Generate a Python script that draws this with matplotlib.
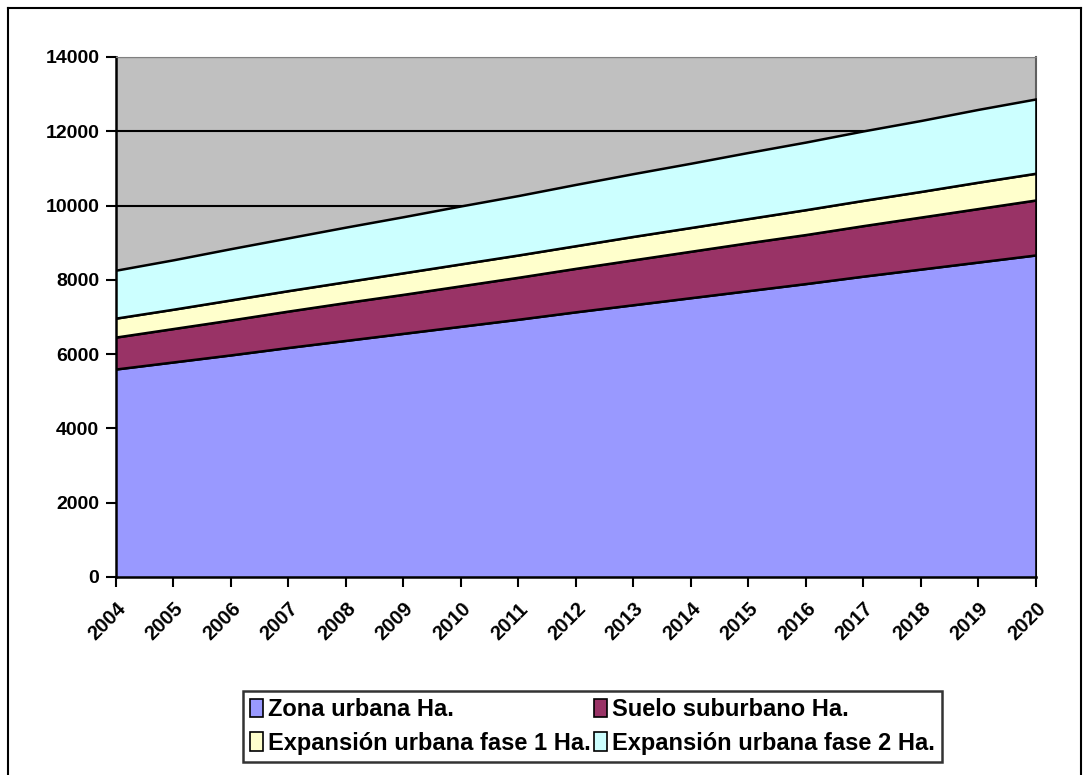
import matplotlib.pyplot as plt
from matplotlib.patches import Patch
from matplotlib.lines import Line2D

years = list(range(2004, 2021))
zona_urbana = [5600, 5790, 5980, 6180, 6370, 6560, 6750, 6940, 7140,
               7330, 7520, 7710, 7900, 8100, 8290, 8480, 8670]
suelo_suburbano = [860, 900, 940, 980, 1020, 1050, 1090, 1130, 1170,
                   1210, 1250, 1290, 1320, 1360, 1400, 1440, 1480]
expansion_1 = [510, 520, 540, 550, 560, 580, 590, 600, 610,
               630, 640, 650, 670, 680, 690, 710, 720]
expansion_2 = [1290, 1330, 1380, 1420, 1470, 1510, 1560, 1600, 1650,
               1690, 1730, 1780, 1820, 1870, 1910, 1960, 2000]

labels = ["Zona urbana Ha.", "Suelo suburbano Ha.",
          "Expansión urbana fase 1 Ha.", "Expansión urbana fase 2 Ha."]
colors = ["#9999FF", "#993366", "#FFFFCC", "#CCFFFF"]

plt.rcParams['font.family'] = ['Liberation Sans', 'DejaVu Sans']
plt.rcParams['font.weight'] = 'bold'

fig = plt.figure(figsize=(10.86, 7.75), dpi=100)
ax = fig.add_axes([0.1068, 0.2555, 0.8471, 0.671])
ax.set_facecolor("#C0C0C0")

ax.stackplot(years, zona_urbana, suelo_suburbano, expansion_1, expansion_2,
             colors=colors, edgecolor="black", linewidth=1.8, zorder=3)

ax.set_xlim(2004, 2020)
ax.set_ylim(0, 14000)
ax.set_yticks(range(0, 14001, 2000))
ax.set_xticks(years)
ax.set_xticklabels([str(y) for y in years], rotation=45, ha="right",
                   rotation_mode="anchor", fontsize=14.5)
ax.tick_params(axis="y", labelsize=14, length=7, width=1.5, pad=5)
ax.tick_params(axis="x", length=7, width=1.5, pad=9)
ax.grid(axis="y", color="black", linewidth=1.5, zorder=1)
ax.set_axisbelow(True)
for s in ["left", "bottom"]:
    ax.spines[s].set_linewidth(1.8)
ax.spines["top"].set_color("#808080")
ax.spines["right"].set_color("#606060")
ax.spines["right"].set_linewidth(1.5)

# row-major order as in the reference legend
order = [0, 2, 1, 3]
handles = [Patch(facecolor=colors[i], edgecolor="black", linewidth=1.2) for i in order]
leg = fig.legend(handles, [labels[i] for i in order], ncol=2, loc="center",
                 bbox_to_anchor=(0.5455, 0.0625), fontsize=17,
                 frameon=True, fancybox=False, edgecolor="black",
                 handlelength=0.55, handleheight=0.85, handletextpad=0.2,
                 columnspacing=0.15, labelspacing=0.45, borderpad=0.3)
leg.get_frame().set_linewidth(1.8)

# outer chart border
border = dict(color="black", linewidth=1.5, transform=fig.transFigure)
fig.add_artist(Line2D([0.0075, 0.0075], [0.0, 0.99], **border))
fig.add_artist(Line2D([0.0075, 0.995], [0.99, 0.99], **border))
fig.add_artist(Line2D([0.995, 0.995], [0.0, 0.99], **border))

fig.savefig("out.png", dpi=100)
